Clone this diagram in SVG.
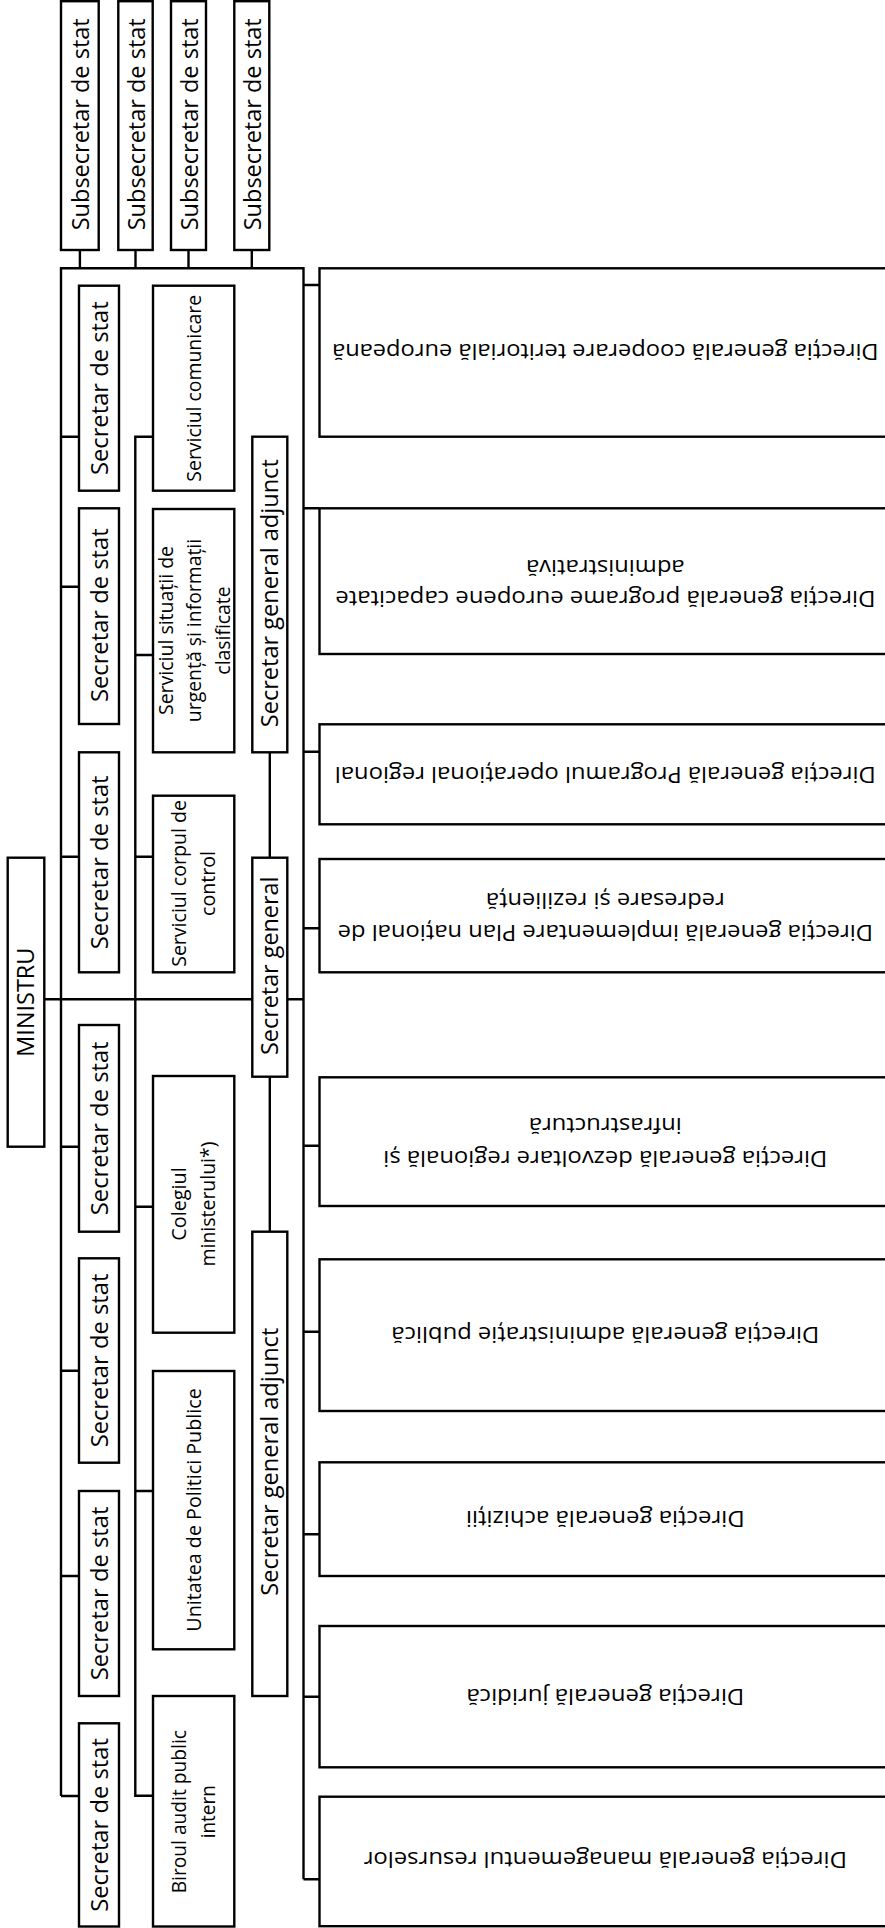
<svg xmlns="http://www.w3.org/2000/svg" width="885" height="1928" viewBox="0 0 885 1928">
<style>
.box{fill:#fff;stroke:#000;stroke-width:2.4}
.ln{fill:none;stroke:#000;stroke-width:2.4}
text{font-family:"Open Sans","Liberation Sans",sans-serif;fill:#000;text-anchor:middle}
.big{font-size:24.5px}
.dir{font-size:22.5px}
.sm{font-size:20px}
</style>
<rect x="0" y="0" width="885" height="1928" fill="#fff"/>
<g id="connectors" class="ln">
<path d="M61,1796 V268.3 H303.5 V1879.3"/>
<path d="M79.9,250 V268.3 M135.5,250 V268.3 M188.5,250 V268.3 M251.8,250 V268.3"/>
<path d="M61,436.7 H79 M61,586.7 H79 M61,856.7 H79 M61,1146.7 H79 M61,1370.7 H79 M61,1576 H79 M61,1796 H79"/>
<path d="M153,436.7 H135.3 V1795.7 H153 M135.3,655 H153 M135.3,856.7 H153 M135.3,1206.7 H153 M135.3,1491 H153"/>
<path d="M44.3,999.3 H303.5"/>
<path d="M269.8,752.3 V1231.7"/>
<path d="M303.5,285 H319.5 M303.5,508.3 H319.5 M303.5,751.7 H319.5 M303.5,928.3 H319.5 M303.5,1145.7 H319.5 M303.5,1331.7 H319.5 M303.5,1534.3 H319.5 M303.5,1696.7 H319.5 M303.5,1879.3 H319.5"/>
</g>
<g id="subsecretar1"><rect class="box" x="61" y="1.2" width="37.7" height="248.8"/><text class="big" transform="translate(79.9,124.3) rotate(-90)" y="9" textLength="212" lengthAdjust="spacingAndGlyphs">Subsecretar de stat</text></g>
<g id="subsecretar2"><rect class="box" x="118.3" y="1.2" width="34.4" height="248.8"/><text class="big" transform="translate(135.5,124.3) rotate(-90)" y="9" textLength="212" lengthAdjust="spacingAndGlyphs">Subsecretar de stat</text></g>
<g id="subsecretar3"><rect class="box" x="171" y="1.2" width="35" height="248.8"/><text class="big" transform="translate(188.5,124.3) rotate(-90)" y="9" textLength="212" lengthAdjust="spacingAndGlyphs">Subsecretar de stat</text></g>
<g id="subsecretar4"><rect class="box" x="234.3" y="1.2" width="35" height="248.8"/><text class="big" transform="translate(251.8,124.3) rotate(-90)" y="9" textLength="212" lengthAdjust="spacingAndGlyphs">Subsecretar de stat</text></g>
<g id="ministru"><rect class="box" x="7.7" y="857.7" width="36.6" height="289"/><text class="big" transform="translate(26,1002.2) rotate(-90)" y="8" textLength="109" lengthAdjust="spacingAndGlyphs">MINISTRU</text></g>
<g id="secretar1"><rect class="box" x="79" y="285.7" width="40" height="205"/><text class="big" transform="translate(99,388.2) rotate(-90)" y="9" textLength="173.7" lengthAdjust="spacingAndGlyphs">Secretar de stat</text></g>
<g id="secretar2"><rect class="box" x="79" y="508.3" width="40" height="215.7"/><text class="big" transform="translate(99,615.2) rotate(-90)" y="9" textLength="173.7" lengthAdjust="spacingAndGlyphs">Secretar de stat</text></g>
<g id="secretar3"><rect class="box" x="79" y="752.3" width="40" height="220"/><text class="big" transform="translate(99,862.3) rotate(-90)" y="9" textLength="173.7" lengthAdjust="spacingAndGlyphs">Secretar de stat</text></g>
<g id="secretar4"><rect class="box" x="79" y="1025" width="40" height="206.7"/><text class="big" transform="translate(99,1128.3) rotate(-90)" y="9" textLength="173.7" lengthAdjust="spacingAndGlyphs">Secretar de stat</text></g>
<g id="secretar5"><rect class="box" x="79" y="1258.3" width="40" height="204.4"/><text class="big" transform="translate(99,1360.5) rotate(-90)" y="9" textLength="173.7" lengthAdjust="spacingAndGlyphs">Secretar de stat</text></g>
<g id="secretar6"><rect class="box" x="79" y="1491" width="40" height="205"/><text class="big" transform="translate(99,1593.5) rotate(-90)" y="9" textLength="173.7" lengthAdjust="spacingAndGlyphs">Secretar de stat</text></g>
<g id="secretar7"><rect class="box" x="79" y="1723.3" width="40" height="203.2"/><text class="big" transform="translate(99,1825) rotate(-90)" y="9" textLength="173.7" lengthAdjust="spacingAndGlyphs">Secretar de stat</text></g>
<g id="serv-comunicare"><rect class="box" x="153" y="285.7" width="81.3" height="205"/><text class="sm" transform="translate(193.7,388.3) rotate(-90)" y="7.3" textLength="186.7" lengthAdjust="spacingAndGlyphs">Serviciul comunicare</text></g>
<g id="serv-situatii"><rect class="box" x="153" y="509" width="81.3" height="243.3"/><g transform="translate(193.7,630.5) rotate(-90)"><text class="sm" y="-21" textLength="169" lengthAdjust="spacingAndGlyphs">Serviciul situații de</text><text class="sm" y="7.5" textLength="183.3" lengthAdjust="spacingAndGlyphs">urgență și informații</text><text class="sm" y="36" textLength="88.3" lengthAdjust="spacingAndGlyphs">clasificate</text></g></g>
<g id="serv-control"><rect class="box" x="153" y="795.7" width="81.3" height="176.6"/><g transform="translate(193.7,883.5) rotate(-90)"><text class="sm" y="-7.5" textLength="166.7" lengthAdjust="spacingAndGlyphs">Serviciul corpul de</text><text class="sm" y="21" textLength="65" lengthAdjust="spacingAndGlyphs">control</text></g></g>
<g id="colegiul"><rect class="box" x="153" y="1076" width="81.3" height="256.7"/><g transform="translate(193.7,1204) rotate(-90)"><text class="sm" y="-7.5" textLength="73.3" lengthAdjust="spacingAndGlyphs">Colegiul</text><text class="sm" y="21" textLength="125" lengthAdjust="spacingAndGlyphs">ministerului*)</text></g></g>
<g id="unitatea"><rect class="box" x="153" y="1371" width="81.3" height="278.3"/><text class="sm" transform="translate(193.7,1510) rotate(-90)" y="7.3" textLength="243.4" lengthAdjust="spacingAndGlyphs">Unitatea de Politici Publice</text></g>
<g id="biroul"><rect class="box" x="153" y="1696" width="81.3" height="230.5"/><g transform="translate(193.7,1811.7) rotate(-90)"><text class="sm" y="-7.5" textLength="163.3" lengthAdjust="spacingAndGlyphs">Biroul audit public</text><text class="sm" y="21" textLength="53.3" lengthAdjust="spacingAndGlyphs">intern</text></g></g>
<g id="sga1"><rect class="box" x="252.3" y="436.7" width="35" height="315.6"/><text class="big" transform="translate(269.8,593.2) rotate(-90)" y="8" textLength="268" lengthAdjust="spacingAndGlyphs">Secretar general adjunct</text></g>
<g id="sg"><rect class="box" x="252.3" y="857.7" width="35" height="219"/><text class="big" transform="translate(269.8,965.8) rotate(-90)" y="8" textLength="178.3" lengthAdjust="spacingAndGlyphs">Secretar general</text></g>
<g id="sga2"><rect class="box" x="252.3" y="1231.7" width="35" height="464.3"/><text class="big" transform="translate(269.8,1461.7) rotate(-90)" y="8" textLength="268" lengthAdjust="spacingAndGlyphs">Secretar general adjunct</text></g>
<g id="dg-cooperare"><rect class="box" x="319.5" y="268.3" width="580" height="168.4"/><text class="dir" transform="translate(605.3,352.5) rotate(180)" y="8.5" textLength="546.6" lengthAdjust="spacingAndGlyphs">Direcția generală cooperare teritorială europeană</text></g>
<g id="dg-capacitate"><rect class="box" x="319.5" y="508.3" width="580" height="145.7"/><g transform="translate(605.3,581.2) rotate(180)"><text class="dir" y="-10.3" textLength="540.2" lengthAdjust="spacingAndGlyphs">Direcția generală programe europene capacitate</text><text class="dir" y="21.5" textLength="158.6" lengthAdjust="spacingAndGlyphs">administrativă</text></g></g>
<g id="dg-por"><rect class="box" x="319.5" y="724.3" width="580" height="100"/><text class="dir" transform="translate(605.3,774.3) rotate(180)" y="7" textLength="541" lengthAdjust="spacingAndGlyphs">Direcția generală Programul operațional regional</text></g>
<g id="dg-pnrr"><rect class="box" x="319.5" y="859" width="580" height="113.3"/><g transform="translate(605.3,915.6) rotate(180)"><text class="dir" y="-9.4" textLength="535.4" lengthAdjust="spacingAndGlyphs">Direcția generală implementare Plan național de</text><text class="dir" y="23" textLength="238.8" lengthAdjust="spacingAndGlyphs">redresare și reziliență</text></g></g>
<g id="dg-dezvoltare"><rect class="box" x="319.5" y="1077.3" width="580" height="128.7"/><g transform="translate(605.3,1141.7) rotate(180)"><text class="dir" y="-9.4" textLength="444" lengthAdjust="spacingAndGlyphs">Direcția generală dezvoltare regională și</text><text class="dir" y="23.5" textLength="153" lengthAdjust="spacingAndGlyphs">infrastructură</text></g></g>
<g id="dg-admin"><rect class="box" x="319.5" y="1259.3" width="580" height="151.7"/><text class="dir" transform="translate(605.3,1335.2) rotate(180)" y="8.5" textLength="427.9" lengthAdjust="spacingAndGlyphs">Direcția generală administrație publică</text></g>
<g id="dg-achizitii"><rect class="box" x="319.5" y="1462.3" width="580" height="113.7"/><text class="dir" transform="translate(605.3,1519.1) rotate(180)" y="8" textLength="278.7" lengthAdjust="spacingAndGlyphs">Direcția generală achiziții</text></g>
<g id="dg-juridica"><rect class="box" x="319.5" y="1626" width="580" height="141.3"/><text class="dir" transform="translate(605.3,1696.6) rotate(180)" y="7.5" textLength="278" lengthAdjust="spacingAndGlyphs">Direcția generală juridică</text></g>
<g id="dg-resurse"><rect class="box" x="319.5" y="1796.7" width="580" height="129.5"/><text class="dir" transform="translate(605.3,1861.4) rotate(180)" y="9.5" textLength="483.2" lengthAdjust="spacingAndGlyphs">Direcția generală managementul resurselor</text></g>
</svg>
